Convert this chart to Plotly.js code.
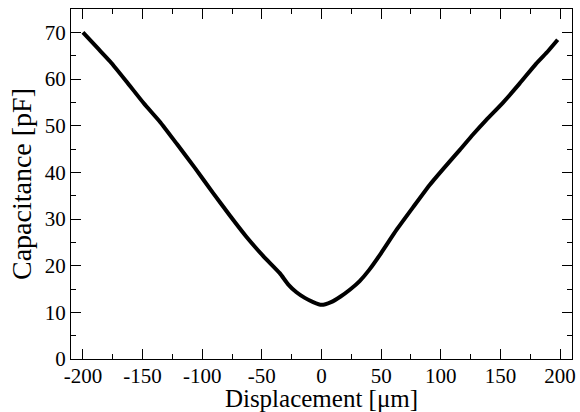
<!DOCTYPE html>
<html>
<head>
<meta charset="utf-8">
<script src="https://cdn.plot.ly/plotly-3.0.1.min.js"></script>
<style>html,body{margin:0;padding:0;background:#fff;}#chart{width:580px;height:412px;}</style>
</head>
<body>
<div id="chart"></div>
<script>
// Data
const displacement = [-200, -188, -177, -163, -149, -135, -121, -106, -91, -77, -63, -49, -35, -28, -21, -14, -7, 0, 8, 16, 24, 32, 40, 50, 63, 77, 91, 105, 116, 127, 138, 152, 166, 180, 190, 198];
const capacitance = [70.0, 66.7, 63.7, 59.3, 54.8, 50.7, 46.0, 40.9, 35.6, 30.8, 26.2, 22.1, 18.4, 16.0, 14.3, 13.1, 12.2, 11.6, 12.2, 13.4, 14.9, 16.7, 19.1, 22.7, 27.7, 32.6, 37.4, 41.6, 44.8, 48.1, 51.2, 54.9, 59.0, 63.3, 66.0, 68.4];
const xTickVals = [-200, -150, -100, -50, 0, 50, 100, 150, 200];
const xTickText = ['-200', '-150', '-100', '-50', '0', '50', '100', '150', '200'];
const yTickVals = [0, 10, 20, 30, 40, 50, 60, 70];
const yTickText = ['0', '10', '20', '30', '40', '50', '60', '70'];
const xTitle = 'Displacement [\u03bcm]';
const yTitle = 'Capacitance [pF]';

const serif = 'Liberation Serif';

const trace = {
  x: displacement,
  y: capacitance,
  type: 'scatter',
  mode: 'lines',
  line: {color: '#000', width: 4, shape: 'spline', smoothing: 0.5},
  hoverinfo: 'skip'
};

const layout = {
  width: 580,
  height: 412,
  margin: {l: 71, r: 8, t: 9, b: 53},
  paper_bgcolor: '#fff',
  plot_bgcolor: '#fff',
  font: {family: serif, size: 21, color: '#000'},
  showlegend: false,
  xaxis: {
    showgrid: false, zeroline: false, showline: true,
    linecolor: '#000', linewidth: 1, mirror: 'ticks',
    ticks: 'inside', ticklen: 10, tickwidth: 1, tickcolor: '#000',
    range: [-210, 210],
    tickmode: 'array',
    tickvals: xTickVals,
    ticktext: xTickText,
    tickfont: {family: serif, size: 21, color: '#000'},
    ticklabelstandoff: -2,
    minor: {ticks: 'inside', ticklen: 5, tickwidth: 1, tickcolor: '#000', dtick: 25, tick0: 0},
    title: {text: xTitle, font: {family: serif, size: 25, color: '#000'}, standoff: 0}
  },
  yaxis: {
    showgrid: false, zeroline: false, showline: true,
    linecolor: '#000', linewidth: 1, mirror: 'ticks',
    ticks: 'inside', ticklen: 10, tickwidth: 1, tickcolor: '#000',
    range: [0, 75],
    tickmode: 'array',
    tickvals: yTickVals,
    ticktext: yTickText,
    tickfont: {family: serif, size: 21, color: '#000'},
    minor: {ticks: 'inside', ticklen: 5, tickwidth: 1, tickcolor: '#000', dtick: 5, tick0: 0},
    title: {text: yTitle, font: {family: serif, size: 28, color: '#000'}, standoff: 4}
  }
};

Plotly.newPlot('chart', [trace], layout, {staticPlot: true, displayModeBar: false});
</script>
</body>
</html>
